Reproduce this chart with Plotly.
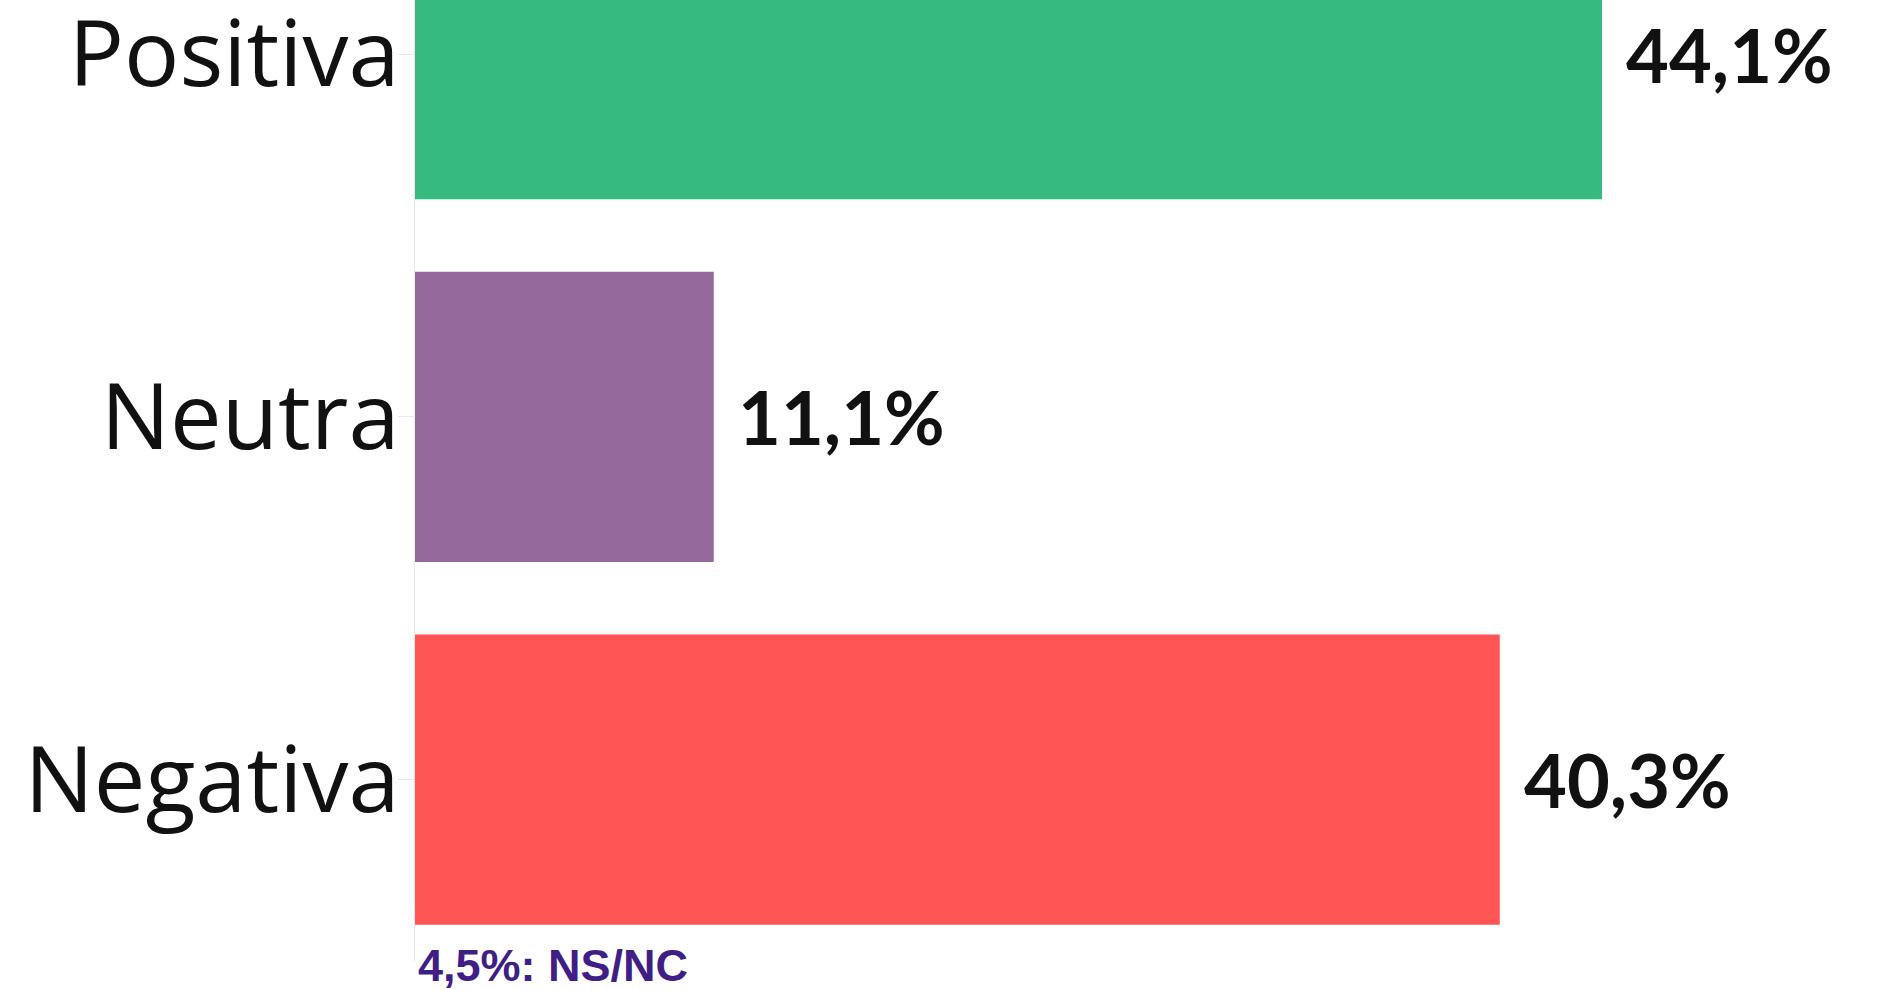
import plotly.graph_objects as go

# Survey results: opinion breakdown
categories = ["Positiva", "Neutra", "Negativa"]
values = [44.1, 11.1, 40.3]
value_labels = ["44,1%", "11,1%", "40,3%"]
bar_colors = ["#37BA7F", "#95699B", "#FF5555"]
footnote = "4,5%: NS/NC"

W, H = 1882, 989
LEFT = 415

fig = go.Figure(
    go.Bar(
        x=values,
        y=categories,
        orientation="h",
        marker=dict(color=bar_colors, line=dict(width=0)),
        width=0.8,
        hoverinfo="skip",
    )
)

# value labels to the right of each bar
for cat, val, lab in zip(categories, values, value_labels):
    fig.add_annotation(
        x=val, y=cat, xref="x", yref="y",
        text=lab, showarrow=False,
        xanchor="left", yanchor="middle", xshift=22,
        font=dict(family="Lato", size=74, color="#111111", weight=700),
    )

fig.add_annotation(
    x=0, y=0, xref="paper", yref="paper",
    text=f"<b>{footnote}</b>", showarrow=False,
    xanchor="left", yanchor="middle", xshift=1, yshift=-4,
    font=dict(family="Liberation Sans", size=45, color="#3F1F86"),
)

fig.update_layout(
    width=W, height=H,
    margin=dict(l=LEFT, r=0, t=0, b=28, autoexpand=False),
    paper_bgcolor="white",
    plot_bgcolor="white",
    showlegend=False,
    xaxis=dict(
        range=[0, 54.5], showgrid=False, zeroline=False,
        showticklabels=False, showline=False, ticks="",
        automargin=False,
    ),
    yaxis=dict(
        type="category",
        categoryorder="array", categoryarray=categories,
        range=[2.5, -0.149],
        automargin=False,
        showgrid=False, zeroline=False,
        showline=True, linecolor="#E8E8E8", linewidth=1,
        ticks="outside", ticklen=16, tickcolor="#E8E8E8", tickwidth=1,
        ticklabelstandoff=-20,
        tickfont=dict(family="Open Sans", size=92, color="#111111"),
    ),
)

fig.write_html("out.html")
